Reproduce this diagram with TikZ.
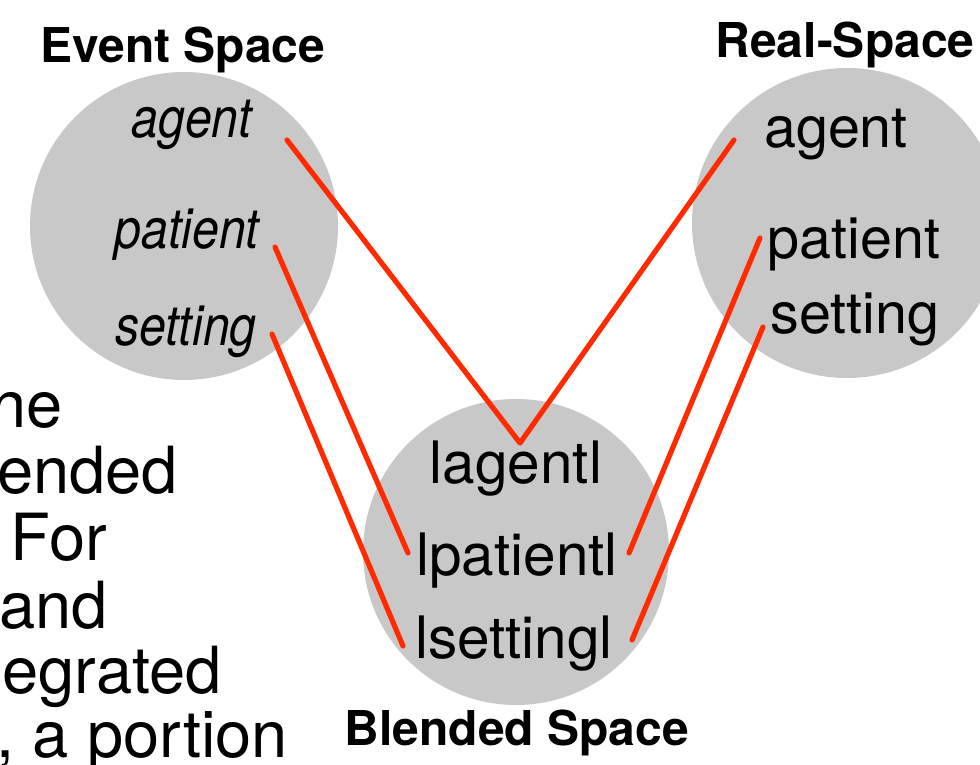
\documentclass[tikz,border=0pt]{standalone}
\usepackage{fontspec}
\setmainfont{TeX Gyre Heros}
\definecolor{spacefill}{RGB}{200,200,200}
\definecolor{maplink}{RGB}{255,42,0}
\tikzset{
  space/.style={fill=spacefill,draw=none},
  title/.style={anchor=base,inner sep=0pt,font=\fontsize{48}{52}\selectfont\bfseries},
  role/.style={anchor=base,inner sep=0pt,font=\fontsize{57.5}{60}\selectfont},
  blendrole/.style={anchor=base,inner sep=0pt,font=\fontsize{58.5}{60}\selectfont},
  eventrole/.style={anchor=base,inner sep=0pt,xscale=0.86,font=\fontsize{56}{60}\selectfont\itshape},
  bodytext/.style={anchor=base east,inner sep=0pt,font=\fontsize{65}{66}\selectfont},
  link/.style={draw=maplink,line width=5.2pt,line cap=round,line join=round}
}
\begin{document}
\begin{tikzpicture}[x=1pt,y=-1pt]
\useasboundingbox (0,0) rectangle (980,765);
\clip (0,0) rectangle (980,765);
\fill[white] (0,0) rectangle (980,765);

% the three mental spaces
\path[space] (184,226) circle[radius=154pt];
\path[space] (847,223) circle[radius=155pt];
\path[space] (516,552) circle[radius=153pt];

% running text beside the diagram
\node[bodytext] (t1) at (63,427) {he};
\node[bodytext] (t2) at (178,493) {ended};
\node[bodytext] (t3) at (107,560) {For};
\node[bodytext] (t4) at (108,628) {and};
\node[bodytext] (t5) at (222,693) {egrated};
\node[bodytext] (t6) at (288,757) {, a portion};

% titles
\node[title] (evt) at (183,63) {Event Space};
\node[title] (real) at (845,58) {Real-Space};
\node[title] (blend) at (517,745) {Blended Space};

% event space roles
\node[eventrole] (ea) at (192,138) {agent};
\node[eventrole] (ep) at (187,248) {patient};
\node[eventrole] (es) at (186,345) {setting};

% real space roles
\node[role] (ra) at (836,148) {agent};
\node[role] (rp) at (854,258) {patient};
\node[role] (rs) at (855,333) {setting};

% blended space roles
\node[blendrole] (ba) at (516,483) {lagentl};
\node[blendrole] (bp) at (517,575) {lpatientl};
\node[blendrole] (bs) at (514,658) {lsettingl};

% connector end points
\coordinate (ea-r) at (287,140);
\coordinate (ep-r) at (275,247);
\coordinate (es-r) at (272,334);
\coordinate (ra-l) at (734,140);
\coordinate (rp-l) at (760,238);
\coordinate (rs-l) at (763,327);
\coordinate (ba-t) at (520,443);
\coordinate (bp-l) at (408,553);
\coordinate (bp-r) at (629,553);
\coordinate (bs-l) at (403,646);
\coordinate (bs-r) at (632,640);

% cross-space mappings
\draw[link] (ea-r) -- (ba-t) -- (ra-l);
\draw[link] (ep-r) -- (bp-l);
\draw[link] (es-r) -- (bs-l);
\draw[link] (rp-l) -- (bp-r);
\draw[link] (rs-l) -- (bs-r);
\end{tikzpicture}
\end{document}
